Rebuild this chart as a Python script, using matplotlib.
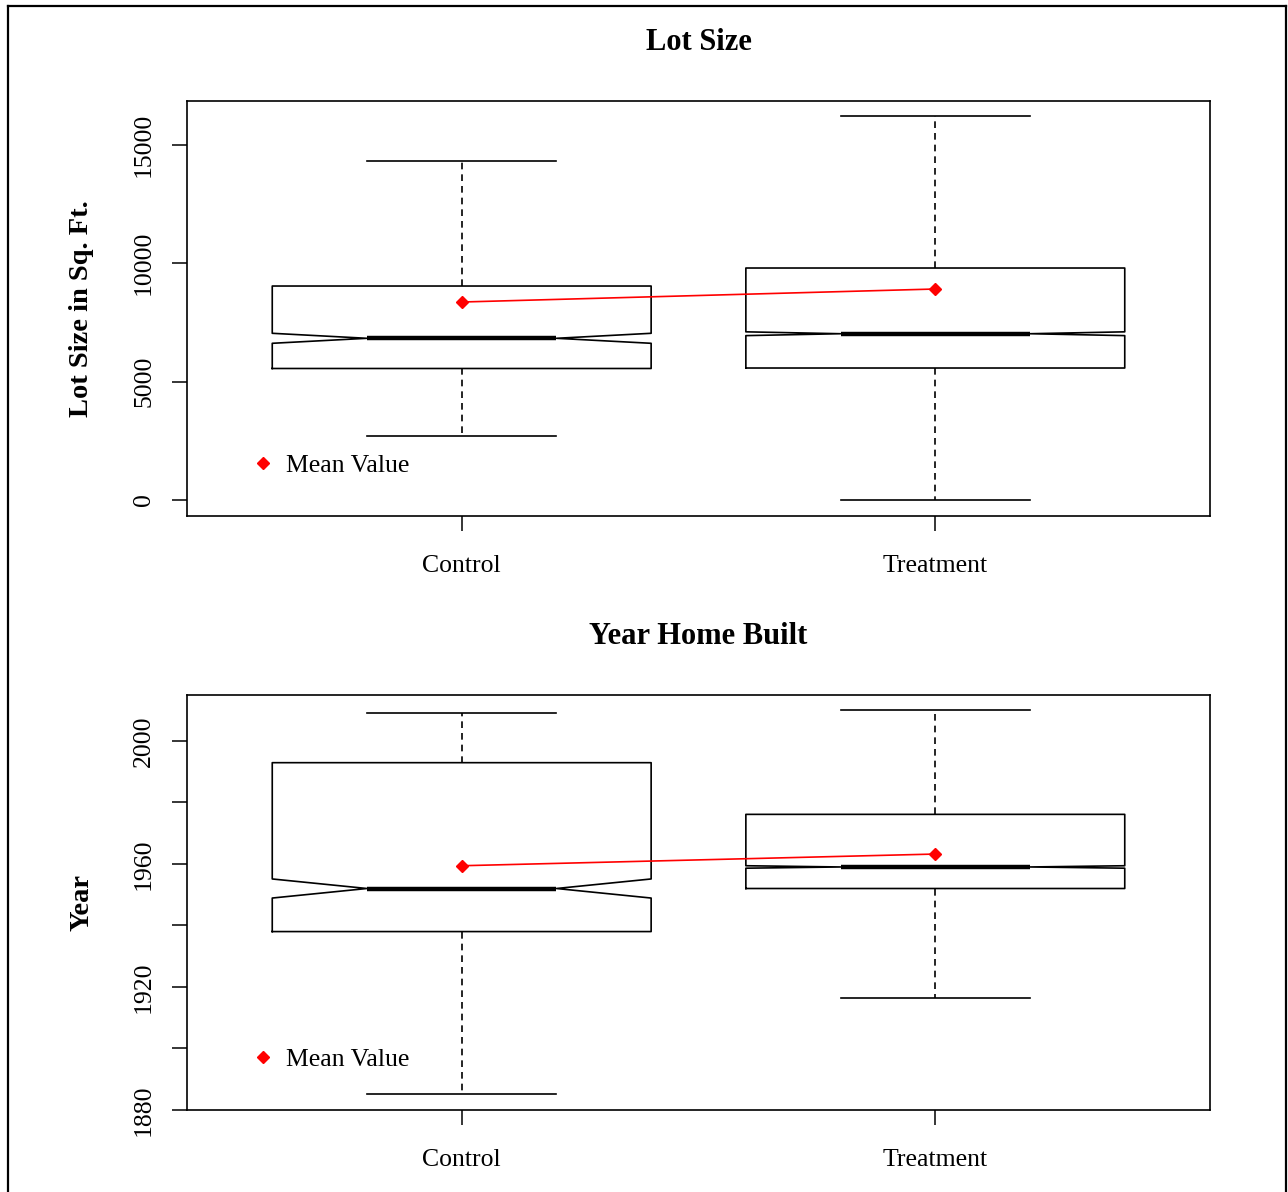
import matplotlib.pyplot as plt
import matplotlib.lines as mlines
import numpy as np

plt.rcParams['font.family'] = ['Liberation Serif', 'DejaVu Serif']

groups = ['Control', 'Treatment']

# Lot size (sq. ft.)
lot_q1 = [5550, 5570]
lot_med = [6824, 7017]
lot_q3 = [9030, 9790]
lot_lo = [2700, 0]
lot_hi = [14306, 16200]
lot_ci = [211, 80]
lot_mean = [8355, 8904]

# Year home built
yr_q1 = [1938.0, 1952.0]
yr_med = [1952.0, 1959.0]
yr_q3 = [1992.9, 1976.1]
yr_lo = [1885.2, 1916.3]
yr_hi = [2009.1, 2010.1]
yr_ci = [3.1, 0.4]
yr_mean = [1959.4, 1963.2]


def make_stats(q1, med, q3, lo, hi, ci):
    out = []
    for i in range(len(q1)):
        out.append(dict(q1=q1[i], med=med[i], q3=q3[i], whislo=lo[i], whishi=hi[i],
                        cilo=med[i] - ci[i], cihi=med[i] + ci[i], fliers=[]))
    return out


fig = plt.figure(figsize=(12.88, 11.92), dpi=100)
ax1 = fig.add_axes([187/1288, 1 - 516/1192, 1023/1288, 415/1192])
ax2 = fig.add_axes([187/1288, 1 - 1110/1192, 1023/1288, 415/1192])

panels = [
    (ax1, make_stats(lot_q1, lot_med, lot_q3, lot_lo, lot_hi, lot_ci), lot_mean,
     'Lot Size', 'Lot Size in Sq. Ft.'),
    (ax2, make_stats(yr_q1, yr_med, yr_q3, yr_lo, yr_hi, yr_ci), yr_mean,
     'Year Home Built', 'Year'),
]

for ax, stats, means, title, ylab in panels:
    ax.bxp(stats, positions=[1, 2], widths=0.8, capwidths=0.4, shownotches=True,
           showfliers=False,
           boxprops=dict(color='black', linewidth=1.2),
           whiskerprops=dict(color='black', linewidth=1.2, linestyle=(0, (4, 3))),
           capprops=dict(color='black', linewidth=1.2),
           medianprops=dict(color='black', linewidth=3.2, solid_capstyle='butt'))
    ax.plot([1, 2], means, color='red', linewidth=1.2, marker='D', markersize=6.5,
            label='Mean Value')
    ax.set_xlim(0.42, 2.58)
    ax.set_xticks([1, 2])
    ax.set_xticklabels(groups)
    ax.tick_params(axis='both', labelsize=18.5, length=11, width=1.1, direction='out')
    ax.tick_params(axis='x', pad=17)
    ax.tick_params(axis='y', pad=12)
    for s in ax.spines.values():
        s.set_linewidth(1.2)
    ax.set_ylabel(ylab, fontsize=20.5, fontweight='bold', labelpad=28)
    ax.set_title(title, fontsize=22, fontweight='bold', pad=37)
    leg = ax.legend(loc='lower left', bbox_to_anchor=(0.039, 0.038), frameon=False,
                    fontsize=18.5, handlelength=1.0, handletextpad=0.4, numpoints=1)
    # legend shows only the diamond marker
    leg.legend_handles[0].set_linestyle('none')

ax1.set_ylim(-675, 16838)
ax1.set_yticks([0, 5000, 10000, 15000])
ax1.set_yticklabels(['0', '5000', '10000', '15000'], rotation=90, va='center')

ax2.set_ylim(1880, 2014.9)
ax2.set_yticks([1880, 1900, 1920, 1940, 1960, 1980, 2000])
ax2.set_yticklabels(['1880', '', '1920', '', '1960', '', '2000'], rotation=90, va='center')

# outer frame
fig.add_artist(mlines.Line2D([8/1288, 8/1288], [0, 1 - 6/1192], color='black', linewidth=1.6))
fig.add_artist(mlines.Line2D([8/1288, 1286/1288], [1 - 6/1192, 1 - 6/1192], color='black', linewidth=1.6))
fig.add_artist(mlines.Line2D([1286/1288, 1286/1288], [0, 1 - 6/1192], color='black', linewidth=1.6))

fig.savefig('out.png', dpi=100)
